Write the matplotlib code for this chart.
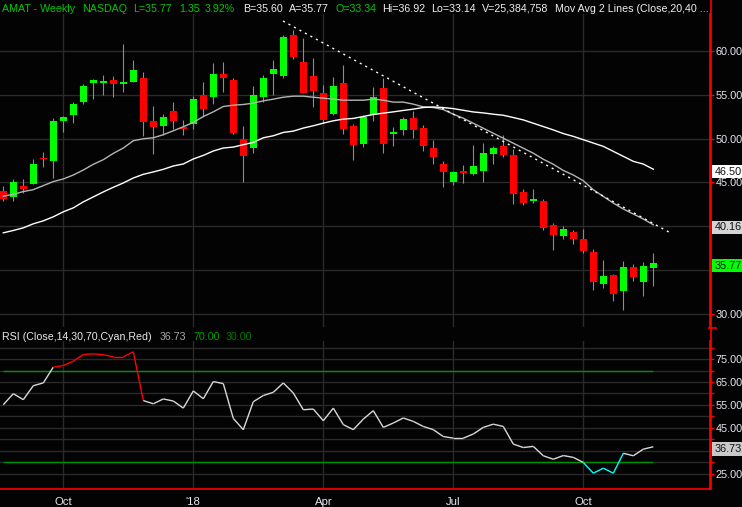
import matplotlib
matplotlib.use('Agg')
import matplotlib.pyplot as plt
import matplotlib.transforms as mtransforms
from matplotlib.collections import LineCollection
from matplotlib.patches import Rectangle
from matplotlib.lines import Line2D
import numpy as np

plt.rcParams['font.family'] = ['Liberation Sans', 'DejaVu Sans']

# ---------------- data (weekly AMAT, Aug 2017 - Nov 2018) ----------------
opens = [44.06, 43.30, 44.63, 44.78, 47.82, 47.40, 52.03, 52.64, 54.23, 56.36,
         56.39, 56.70, 56.28, 56.51, 56.93, 52.03, 51.46, 53.17, 51.27, 51.61,
         54.99, 54.69, 57.38, 56.70, 49.98, 48.88, 54.69, 57.42, 57.19, 61.82,
         58.75, 57.15, 55.22, 52.83, 56.36, 51.46, 49.41, 52.71, 55.79, 50.55,
         51.01, 52.37, 51.23, 48.90, 47.07, 45.02, 46.27, 45.93, 46.27, 48.21,
         49.13, 48.10, 43.88, 42.85, 42.85, 40.11, 38.86, 39.33, 38.54, 37.05,
         33.40, 34.43, 32.60, 35.34, 33.63, 35.25]
highs = [44.55, 45.39, 45.43, 47.70, 48.50, 52.30, 52.60, 54.12, 56.24, 56.85,
         57.27, 57.15, 60.80, 58.98, 57.61, 53.74, 52.83, 54.19, 52.14, 54.88,
         56.47, 58.63, 58.75, 56.93, 51.46, 56.02, 57.27, 58.98, 61.78, 62.39,
         61.48, 59.20, 56.13, 57.04, 58.41, 51.69, 52.71, 55.90, 56.93, 51.35,
         52.49, 53.17, 51.58, 49.81, 47.41, 46.27, 46.96, 49.24, 49.47, 49.13,
         50.38, 48.78, 44.22, 44.22, 43.08, 40.34, 40.00, 39.56, 39.68, 37.40,
         36.14, 34.54, 36.03, 35.68, 35.91, 36.92]
lows = [42.92, 42.85, 43.80, 44.78, 46.72, 45.46, 50.70, 51.73, 54.00, 54.46,
        54.99, 54.69, 55.37, 56.51, 50.25, 48.20, 50.44, 51.12, 50.36, 51.12,
        52.49, 53.93, 55.37, 50.47, 45.01, 48.31, 54.23, 54.99, 56.96, 59.09,
        55.22, 53.62, 51.76, 52.71, 50.55, 47.59, 49.07, 52.03, 48.39, 49.18,
        50.44, 50.09, 48.61, 47.07, 44.45, 44.68, 44.90, 45.82, 45.02, 47.07,
        47.87, 42.51, 42.40, 42.62, 39.54, 37.26, 38.52, 37.97, 36.94, 32.72,
        32.95, 31.46, 30.44, 33.75, 32.03, 33.14]
closes = [43.15, 45.09, 44.21, 47.13, 47.63, 52.03, 52.41, 53.97, 56.02, 56.70,
          56.51, 56.28, 56.51, 57.84, 51.84, 51.35, 52.49, 51.95, 51.04, 54.53,
          53.32, 57.38, 56.96, 50.59, 47.97, 54.99, 56.93, 57.95, 61.59, 59.32,
          55.22, 55.45, 52.14, 56.02, 51.04, 49.30, 52.49, 54.76, 49.41, 50.78,
          52.26, 51.01, 49.18, 47.91, 46.16, 46.16, 46.05, 46.84, 48.33, 48.90,
          48.10, 43.65, 42.62, 43.08, 39.77, 38.97, 39.66, 38.54, 37.17, 33.63,
          34.32, 32.26, 35.34, 34.20, 35.46, 35.77]
ma20 = [43.42, 43.64, 43.95, 44.17, 44.63, 45.09, 45.39, 45.84, 46.41, 47.06,
        47.59, 48.31, 48.92, 49.75, 49.98, 50.09, 50.44, 50.89, 51.35, 51.84,
        52.52, 53.05, 53.66, 53.81, 53.89, 54.04, 54.31, 54.50, 54.72, 54.84,
        54.84, 54.72, 54.61, 54.50, 54.38, 54.38, 54.38, 54.50, 54.38, 54.16,
        54.16, 53.93, 53.62, 53.54, 53.31, 52.78, 52.32, 51.75, 51.18, 50.61,
        50.04, 49.47, 48.90, 48.33, 47.64, 47.07, 46.36, 45.84, 45.19, 44.16,
        43.40, 42.64, 41.96, 41.39, 40.82, 40.16]
ma40 = [39.24, 39.51, 39.81, 40.27, 40.61, 41.07, 41.64, 42.09, 42.77, 43.34,
        43.91, 44.44, 44.93, 45.50, 45.92, 46.19, 46.49, 46.87, 47.10, 47.67,
        48.08, 48.58, 48.92, 49.03, 49.30, 49.56, 50.09, 50.32, 50.70, 50.85,
        51.20, 51.46, 51.76, 52.03, 52.22, 52.30, 52.52, 52.75, 52.90, 53.05,
        53.21, 53.36, 53.55, 53.61, 53.54, 53.42, 53.23, 53.04, 52.93, 52.78,
        52.66, 52.40, 52.13, 51.75, 51.37, 50.99, 50.57, 50.25, 49.87, 49.49,
        49.11, 48.54, 47.97, 47.40, 47.09, 46.50]
rsi = [55.1, 59.9, 57.3, 63.4, 64.6, 71.5, 72.2, 74.1, 77.0, 77.3,
       76.9, 76.0, 76.0, 78.2, 56.9, 55.5, 57.6, 56.7, 53.6, 61.1,
       57.7, 65.2, 64.3, 49.1, 44.2, 56.4, 59.1, 60.5, 64.6, 60.2,
       52.9, 53.2, 48.1, 53.6, 46.4, 44.2, 48.8, 52.5, 45.2, 47.1,
       49.3, 47.8, 45.6, 44.2, 41.2, 40.5, 40.5, 42.3, 45.2, 46.6,
       45.6, 37.9, 36.4, 36.9, 32.8, 31.3, 32.9, 32.1, 29.9, 25.2,
       27.4, 25.2, 33.9, 32.8, 35.7, 36.73]
trend_x = [27.97, 66.67]
trend_y = [63.42, 39.26]
rsi_levels = [70, 30]
month_ticks = [6, 19, 32, 45, 58]
month_labels = ['Oct', "'18", 'Apr', 'Jul', 'Oct']
price_ticks = [30, 35, 40, 45, 50, 55, 60]
price_hidden = [35, 40]          # covered by the last-value boxes
rsi_major = [25, 35, 45, 55, 65, 75]
rsi_hidden = [35]
rsi_minor = [30, 40, 50, 60, 70, 80]
last_labels = [(46.50, '46.50', '#ffffff'), (40.16, '40.16', '#d4d4d4'), (35.77, '35.77', '#00ff00')]
rsi_last = (36.73, '36.73', '#c8c8c8')

header = [("AMAT - Weekly", 2, '#00c800'), ("NASDAQ", 82, '#00c800'),
          ("L=35.77", 133, '#00c800'), ("1.35", 179, '#00c800'),
          ("3.92%", 205, '#00c800'), ("B=35.60", 243, '#f0f0f0'),
          ("A=35.77", 289, '#f0f0f0'), ("O=33.34", 335, '#00c800'),
          ("Hi=36.92", 382, '#f0f0f0'), ("Lo=33.14", 431, '#f0f0f0'),
          ("V=25,384,758", 482, '#f0f0f0'),
          ("Mov Avg 2 Lines (Close,20,40 ...", 555, '#f0f0f0')]
rsi_header = [("RSI (Close,14,30,70,Cyan,Red)", 2, '#e8e8e8'), ("36.73", 160, '#a8a8a8'),
              ("70.00", 193, '#00a000'), ("30.00", 226, '#007800')]

# ---------------- figure ----------------
BG = '#030303'
GRID = '#2a2a2a'
RED = '#ff0000'
FS = 7.7
AFS = 7.8
W, H = 742, 507
fig = plt.figure(figsize=(W / 100, H / 100), dpi=100, facecolor=BG)


def fx(px):
    return px / W


def fy(py):
    return 1 - py / H


ax = fig.add_axes([0, fy(327), fx(710), (327 - 14) / H], facecolor=BG)
ar = fig.add_axes([0, fy(489), fx(710), (489 - 341) / H], facecolor=BG)

x = np.arange(len(closes))
o = np.array(opens); c = np.array(closes)
hi = np.array(highs); lo = np.array(lows)
up = c >= o
cols = np.where(up, '#00ff00', '#ff0000')

# candles
ax.vlines(x, lo, hi, color='#8c8c8c', lw=0.8, zorder=2)
ax.bar(x, np.maximum(np.abs(c - o), 0.18), bottom=np.minimum(o, c), width=0.7,
       color=cols, linewidth=0, zorder=3)
ax.plot(x, ma20, color='#b4b4b4', lw=1.0, zorder=4)
ax.plot(x, ma40, color='#ffffff', lw=1.0, zorder=4)
ax.plot(trend_x, trend_y, color='#ffffff', lw=1.0, ls=(0, (1.5, 3.0)), zorder=4)

for a in (ax, ar):
    a.set_xlim(-0.33, 70.67)
    for s in ('left', 'top', 'bottom'):
        a.spines[s].set_visible(False)
    a.spines['right'].set_color(RED)
    a.spines['right'].set_linewidth(1.2)
    a.set_xticks(month_ticks)
    a.grid(axis='x', color=GRID, lw=1.0)
    a.set_axisbelow(True)
    a.yaxis.tick_right()
    a.tick_params(axis='y', which='both', colors=RED, labelcolor='#e6e6ee',
                  length=3, width=1, pad=1.2, labelsize=AFS)

ax.set_ylim(28.49, 64.22)
ax.set_yticks(price_ticks)
ax.set_yticklabels(['' if v in price_hidden else f'{v:.2f}' for v in price_ticks])
ax.grid(axis='y', color=GRID, lw=1.0)
ax.tick_params(axis='x', length=0, labelbottom=False)

# RSI panel
ar.set_ylim(18.3, 82.9)
ar.set_yticks(rsi_major)
ar.set_yticklabels(['' if v in rsi_hidden else f'{v:.2f}' for v in rsi_major])
ar.set_yticks(rsi_minor, minor=True)
ar.grid(axis='y', which='both', color=GRID, lw=1.0)
ar.spines['bottom'].set_visible(True)
ar.spines['bottom'].set_color(RED)
ar.spines['bottom'].set_linewidth(1.2)
ar.set_xticklabels(month_labels)
ar.tick_params(axis='x', length=0, colors='#e6e6ee', labelsize=8.2, pad=6)

ar.hlines(rsi_levels, x[0], x[-1], colors='#009000', lw=1.0, zorder=3)
pts = np.column_stack([x, rsi])
segs = np.stack([pts[:-1], pts[1:]], axis=1)
seg_cols = ['#ff0000' if v > 70 else ('#00ffff' if v < 30 else '#d8d8d8') for v in rsi[:-1]]
ar.add_collection(LineCollection(segs, colors=seg_cols, lw=1.0, zorder=4))

# last value boxes
off = mtransforms.ScaledTranslation(0, -2.5 / 100, fig.dpi_scale_trans)
for a, (val, txt, fc), hpx in [(ax, last_labels[0], 13), (ax, last_labels[1], 13),
                               (ax, last_labels[2], 13), (ar, rsi_last, 14)]:
    tr = a.get_yaxis_transform() + off
    ppu = a.bbox.height / (a.get_ylim()[1] - a.get_ylim()[0])
    hh = hpx / ppu
    a.add_patch(Rectangle((1.0 + 2 / 710, val - hh / 2), 40 / 710, hh, transform=tr,
                          facecolor=fc, edgecolor='none', clip_on=False, zorder=10))
    a.text(1.0 + 5 / 710, val, txt, transform=tr, color='#101010', fontsize=AFS,
           va='center', ha='left', clip_on=False, zorder=11)

# frame lines
fig.add_artist(Line2D([fx(710.5)] * 2, [fy(0), fy(489)], color=RED, lw=1.2))
fig.add_artist(Line2D([fx(709), fx(716)], [fy(328.3)] * 2, color=RED, lw=1.2))

# header texts
for txt, px, col in header:
    fig.text(fx(px), fy(11.5), txt, color=col, fontsize=FS, va='baseline', ha='left')
for txt, px, col in rsi_header:
    fig.text(fx(px), fy(340), txt, color=col, fontsize=FS, va='baseline', ha='left')

fig.savefig('out.png', dpi=100, facecolor=BG)
